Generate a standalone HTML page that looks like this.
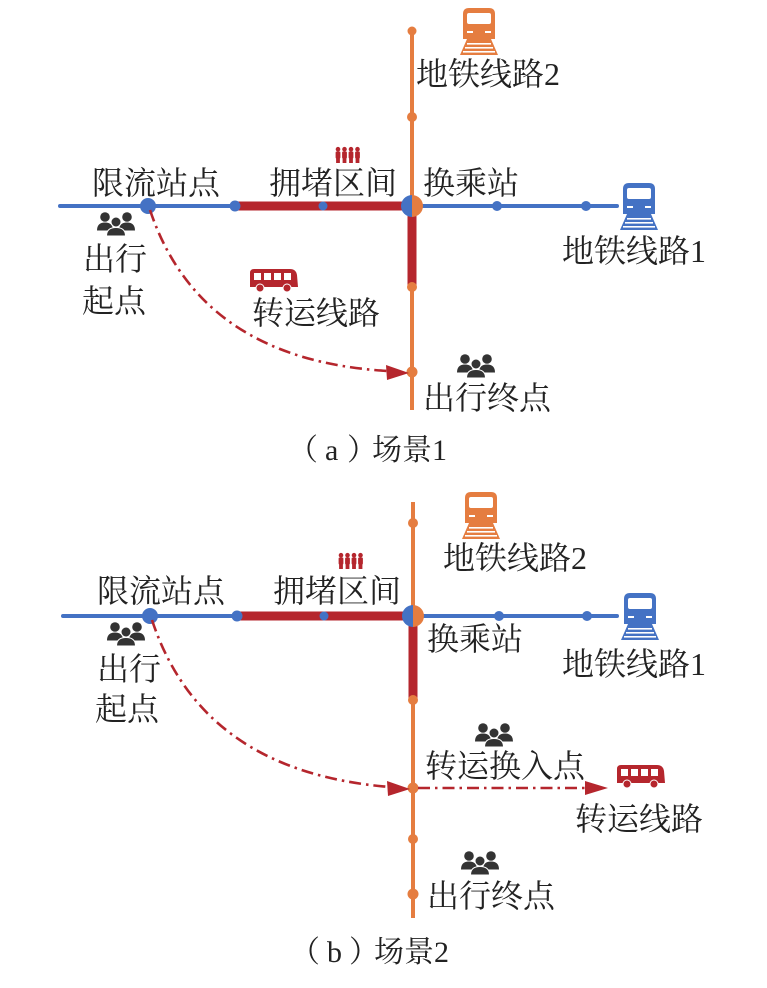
<!DOCTYPE html>
<html><head><meta charset="utf-8"><style>
html,body{margin:0;padding:0;background:#fff;}
svg{display:block;}
text{font-family:"Liberation Serif","Noto Serif CJK SC",serif;fill:#222;}
</style></head><body>
<svg width="767" height="988" viewBox="0 0 767 988" xmlns="http://www.w3.org/2000/svg">
<defs>
<g id="train">
<path d="M3,31 L3,6 Q3,0 9,0 L29,0 Q35,0 35,6 L35,31 Z"/>
<path d="M7,31 L31,31 L38,47 L0,47 Z"/>
<rect x="7" y="5" width="24" height="11" rx="2" fill="#fff"/>
<rect x="7" y="23" width="6" height="2" fill="#fff"/>
<rect x="25" y="23" width="6" height="2" fill="#fff"/>
<rect x="7" y="35" width="24" height="1.6" fill="#fff"/>
<rect x="5" y="39" width="28" height="1.6" fill="#fff"/>
<rect x="3" y="43" width="32" height="1.6" fill="#fff"/>
</g>
<g id="people" fill="#333">
<circle cx="8" cy="5" r="4.8"/>
<path d="M0,18.5 Q0,10.5 8,10.5 Q16,10.5 16,18.5 Z"/>
<circle cx="30" cy="5" r="4.8"/>
<path d="M22,18.5 Q22,10.5 30,10.5 Q38,10.5 38,18.5 Z"/>
<circle cx="19" cy="10" r="5" stroke="#fff" stroke-width="1"/>
<path d="M9.5,24 Q9.5,15.5 19,15.5 Q28.5,15.5 28.5,24 Z" stroke="#fff" stroke-width="1"/>
</g>
<g id="crowd" fill="#b5262d">
<circle cx="3" cy="2.2" r="2.3"/><rect x="0.6" y="4.5" width="4.8" height="7" rx="1"/><rect x="1.1" y="11" width="3.8" height="5"/>
<circle cx="9.5" cy="2.2" r="2.3"/><rect x="7.1" y="4.5" width="4.8" height="7" rx="1"/><rect x="7.6" y="11" width="3.8" height="5"/>
<circle cx="16" cy="2.2" r="2.3"/><rect x="13.6" y="4.5" width="4.8" height="7" rx="1"/><rect x="14.1" y="11" width="3.8" height="5"/>
<circle cx="22.5" cy="2.2" r="2.3"/><rect x="20.1" y="4.5" width="4.8" height="7" rx="1"/><rect x="20.6" y="11" width="3.8" height="5"/>
</g>
<g id="bus">
<path d="M0,4 Q0,0 4,0 L40,0 Q46,0 47,6 L48,18 L0,18 Z" fill="#b5262d"/>
<rect x="4" y="4" width="7" height="7" fill="#fff"/>
<rect x="14" y="4" width="7" height="7" fill="#fff"/>
<rect x="24" y="4" width="7" height="7" fill="#fff"/>
<rect x="34" y="4" width="7" height="7" fill="#fff"/>
<circle cx="10" cy="19" r="4" fill="#b5262d" stroke="#fff" stroke-width="1"/>
<circle cx="37" cy="19" r="4" fill="#b5262d" stroke="#fff" stroke-width="1"/>
</g>
</defs>

<!-- ===== Scene 1 ===== -->
<line x1="412" y1="31" x2="412" y2="410" stroke="#e57d40" stroke-width="4"/>
<line x1="60" y1="206" x2="617" y2="206" stroke="#4472c4" stroke-width="4" stroke-linecap="round"/>
<line x1="238" y1="206" x2="412" y2="206" stroke="#b5262d" stroke-width="9"/>
<line x1="412" y1="206" x2="412" y2="287" stroke="#b5262d" stroke-width="9"/>
<circle cx="412" cy="31" r="4.5" fill="#e57d40"/>
<circle cx="412" cy="117" r="5" fill="#e57d40"/>
<circle cx="412" cy="287" r="5" fill="#e57d40"/>
<circle cx="412" cy="372" r="5.5" fill="#e57d40"/>
<circle cx="148" cy="206" r="8" fill="#4472c4"/>
<circle cx="235" cy="206" r="5.5" fill="#4472c4"/>
<circle cx="323" cy="206" r="4.5" fill="#4472c4"/>
<circle cx="497" cy="206" r="5" fill="#4472c4"/>
<circle cx="586" cy="206" r="5" fill="#4472c4"/>
<path d="M412,195 A11,11 0 0,0 412,217 Z" fill="#4472c4"/>
<path d="M412,195 A11,11 0 0,1 412,217 Z" fill="#e57d40"/>
<path d="M150,210 Q200,360 388,371" fill="none" stroke="#b5262d" stroke-width="2.6" stroke-dasharray="12 5 2.5 5"/>
<polygon points="409,373 386,365 387,380" fill="#b5262d"/>

<use href="#train" x="460" y="8" fill="#e57d40"/>
<use href="#train" x="620" y="183" fill="#4472c4"/>
<use href="#people" x="97" y="212"/>
<use href="#people" x="457" y="354"/>
<use href="#crowd" x="335" y="147"/>
<use href="#bus" x="250" y="269"/>

<text x="92" y="194" font-size="32">限流站点</text>
<text x="269" y="194" font-size="32">拥堵区间</text>
<text x="423" y="194" font-size="32">换乘站</text>
<text x="416" y="85" font-size="32">地铁线路2</text>
<text x="562" y="262" font-size="32">地铁线路1</text>
<text x="83" y="270" font-size="32">出行</text>
<text x="82" y="312" font-size="32">起点</text>
<text x="252" y="324" font-size="32">转运线路</text>
<text x="423" y="409" font-size="32">出行终点</text>
<text x="288" y="460" font-size="30">（</text>
<text x="325" y="460" font-size="30">a</text>
<text x="347" y="460" font-size="30">）</text>
<text x="372" y="460" font-size="30">场景1</text>

<!-- ===== Scene 2 ===== -->
<line x1="413" y1="502" x2="413" y2="918" stroke="#e57d40" stroke-width="4"/>
<line x1="63" y1="616" x2="617" y2="616" stroke="#4472c4" stroke-width="4" stroke-linecap="round"/>
<line x1="240" y1="616" x2="413" y2="616" stroke="#b5262d" stroke-width="9"/>
<line x1="413" y1="616" x2="413" y2="700" stroke="#b5262d" stroke-width="9"/>
<circle cx="413" cy="523" r="5" fill="#e57d40"/>
<circle cx="413" cy="700" r="5" fill="#e57d40"/>
<circle cx="413" cy="788" r="5.5" fill="#e57d40"/>
<circle cx="413" cy="839" r="5" fill="#e57d40"/>
<circle cx="413" cy="894" r="5.5" fill="#e57d40"/>
<circle cx="150" cy="616" r="8" fill="#4472c4"/>
<circle cx="237" cy="616" r="5.5" fill="#4472c4"/>
<circle cx="324" cy="616" r="4.5" fill="#4472c4"/>
<circle cx="499" cy="616" r="5" fill="#4472c4"/>
<circle cx="587" cy="616" r="5" fill="#4472c4"/>
<path d="M413,605 A11,11 0 0,0 413,627 Z" fill="#4472c4"/>
<path d="M413,605 A11,11 0 0,1 413,627 Z" fill="#e57d40"/>
<path d="M152,620 Q202,772 390,787" fill="none" stroke="#b5262d" stroke-width="2.6" stroke-dasharray="12 5 2.5 5"/>
<polygon points="410,789 387,781 388,796" fill="#b5262d"/>
<line x1="418" y1="788" x2="588" y2="788" stroke="#b5262d" stroke-width="2.6" stroke-dasharray="12 5 2.5 5"/>
<polygon points="608,788 585,781 585,795" fill="#b5262d"/>

<use href="#train" x="462" y="492" fill="#e57d40"/>
<use href="#train" x="621" y="593" fill="#4472c4"/>
<use href="#people" x="107" y="622"/>
<use href="#people" x="475" y="723"/>
<use href="#people" x="461" y="851"/>
<use href="#crowd" x="338" y="553"/>
<use href="#bus" x="617" y="765"/>

<text x="97" y="602" font-size="32">限流站点</text>
<text x="273" y="602" font-size="32">拥堵区间</text>
<text x="443" y="569" font-size="32">地铁线路2</text>
<text x="427" y="650" font-size="32">换乘站</text>
<text x="562" y="675" font-size="32">地铁线路1</text>
<text x="97" y="680" font-size="32">出行</text>
<text x="95" y="720" font-size="32">起点</text>
<text x="425" y="777" font-size="32">转运换入点</text>
<text x="575" y="830" font-size="32">转运线路</text>
<text x="427" y="907" font-size="32">出行终点</text>
<text x="290" y="962" font-size="30">（</text>
<text x="327" y="962" font-size="30">b</text>
<text x="349" y="962" font-size="30">）</text>
<text x="374" y="962" font-size="30">场景2</text>
</svg>
</body></html>
